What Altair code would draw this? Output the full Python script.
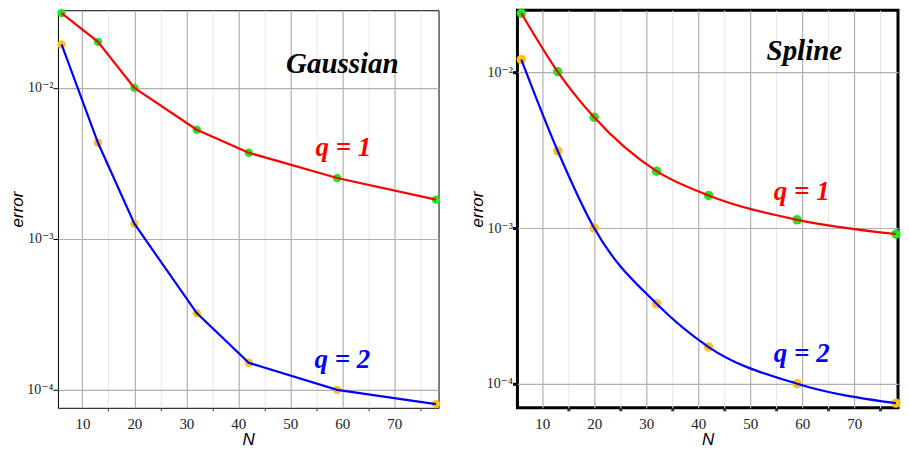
import altair as alt
import pandas as pd

# ---------------- data ----------------
N = [6, 13, 20, 32, 42, 59, 78]

gauss_q1 = [0.0313, 0.0202, 0.0100, 0.00528, 0.00372, 0.00253, 0.00182]
gauss_q2 = [0.0194, 0.00433, 0.00126, 0.000322, 0.000151, 0.000100, 0.0000804]

spline_q1 = [0.0240, 0.0101, 0.00515, 0.00232, 0.00162, 0.00113, 0.000916]
spline_q2 = [0.0121, 0.00313, 0.00100, 0.000326, 0.000172, 0.000100, 0.0000750]

x_major = [10, 20, 30, 40, 50, 60, 70]
x_minor = [15, 25, 35, 45, 55, 65, 75]
y_ticks = [1e-4, 1e-3, 1e-2]
y_tick_labels = ["10⁻⁴", "10⁻³", "10⁻²"]

panel_titles = ["Gaussian", "Spline"]
series_labels = ["q = 1", "q = 2"]

# annotation anchor points (data coords)
gauss_ann = {"title": (60.0, 0.0143), "q1": (60.2, 0.00397), "q2": (60.0, 0.000158)}
spline_ann = {"title": (60.4, 0.0138), "q1": (59.9, 0.00170), "q2": (59.9, 0.000156)}

line_colors = {"q = 1": "#ff0000", "q = 2": "#0000ff"}
point_colors = {"q = 1": "#22e622", "q = 2": "#ffc21a"}

SERIF = "Liberation Serif, Times New Roman, DejaVu Serif, serif"
SANS = "Liberation Sans, Arial, DejaVu Sans, sans-serif"

label_expr = " : ".join(
    f"datum.value < {v * 3:g} ? '{lab}'" for v, lab in zip(y_ticks[:-1], y_tick_labels[:-1])
) + f" : '{y_tick_labels[-1]}'"


def panel(title, q1, q2, ann, xdom, ydom, frame_w, interp, psize):
    df = pd.DataFrame({
        "N": N * 2,
        "error": q1 + q2,
        "series": [series_labels[0]] * len(N) + [series_labels[1]] * len(N),
    })
    xs = alt.Scale(domain=xdom, nice=False, zero=False)
    ys = alt.Scale(type="log", domain=ydom, nice=False)

    y_axis = alt.Axis(
        values=y_ticks, grid=True, gridColor="#b0b0b0", gridWidth=1.2,
        labelExpr=label_expr, labelFont=SERIF, labelFontSize=14,
        labelColor="#222222", labelPadding=0,
        ticks=True, tickSize=5, tickColor="#000000", tickWidth=frame_w,
        domain=False, title="error", titleFont=SANS,
        titleFontStyle="italic", titleFontWeight="normal", titleFontSize=17,
        titleColor="#000000", titlePadding=0)
    Y = alt.Y("error:Q", scale=ys, axis=y_axis)

    minor = alt.Chart(df).mark_point(opacity=0).encode(
        x=alt.X("N:Q", scale=xs, axis=alt.Axis(
            values=x_minor, grid=True, gridColor="#e6e6e6", gridWidth=1,
            labels=False, ticks=True, tickSize=3, tickColor="#333333",
            tickWidth=frame_w, domain=False, title=None, orient="bottom")),
        y=Y,
    )

    pts = alt.Chart(df).mark_circle(size=psize, opacity=1).encode(
        x=alt.X("N:Q", scale=xs, axis=alt.Axis(
            values=x_major, grid=True, gridColor="#b0b0b0", gridWidth=1.2,
            labelFont=SERIF, labelFontSize=15, labelColor="#222222",
            labelPadding=9, ticks=False, domain=False, title="N",
            titleFont=SANS, titleFontStyle="italic",
            titleFontWeight="normal", titleFontSize=17, titleColor="#000000",
            titlePadding=0, orient="bottom")),
        y=Y,
        color=alt.Color("series:N", scale=alt.Scale(
            domain=series_labels, range=[point_colors[s] for s in series_labels]),
            legend=None),
    )

    lines = alt.Chart(df).mark_line(strokeWidth=2.2, interpolate=interp).encode(
        x=alt.X("N:Q", scale=xs, axis=None),
        y=Y,
        color=alt.Color("series:N", scale=alt.Scale(
            domain=series_labels, range=[line_colors[s] for s in series_labels]),
            legend=None),
        detail="series:N",
    )

    tdf = pd.DataFrame({
        "N": [ann["title"][0]],
        "error": [ann["title"][1]],
        "txt": [title],
    })
    ttl = alt.Chart(tdf).mark_text(
        font=SERIF, fontSize=29, fontWeight="bold", fontStyle="italic",
        color="#000000", align="center", baseline="middle",
    ).encode(x=alt.X("N:Q", scale=xs, axis=None), y=Y, text="txt:N")

    qdf = pd.DataFrame({
        "N": [ann["q1"][0], ann["q2"][0]],
        "error": [ann["q1"][1], ann["q2"][1]],
        "txt": series_labels,
    })
    qtxt = alt.Chart(qdf).mark_text(
        font=SERIF, fontSize=27, fontWeight="bold", fontStyle="italic",
        align="center", baseline="middle",
    ).encode(x=alt.X("N:Q", scale=xs, axis=None), y=Y, text="txt:N",
             color=alt.Color("txt:N", scale=alt.Scale(
                 domain=series_labels, range=[line_colors[s] for s in series_labels]),
                 legend=None))

    return alt.layer(minor, pts, lines, ttl, qtxt).resolve_scale(
        color="independent").resolve_axis(x="independent").properties(
        width=381, height=398,
        view=alt.ViewBackground(stroke="#000000", strokeWidth=frame_w),
    )


left = panel(panel_titles[0], gauss_q1, gauss_q2, gauss_ann, [5.3, 78.5], [7.6e-5, 0.0327], 1, "linear", 70)
right = panel(panel_titles[1], spline_q1, spline_q2, spline_ann, [5.25, 78.4], [7.0e-5, 0.0251], 3, "monotone", 90)

chart = alt.hconcat(left, right, spacing=25).properties(
    padding={"left": 0, "top": -2, "right": -2, "bottom": 0},
    background="#ffffff",
)

chart.save("out.html", embed_options={"renderer": "svg", "actions": False})
